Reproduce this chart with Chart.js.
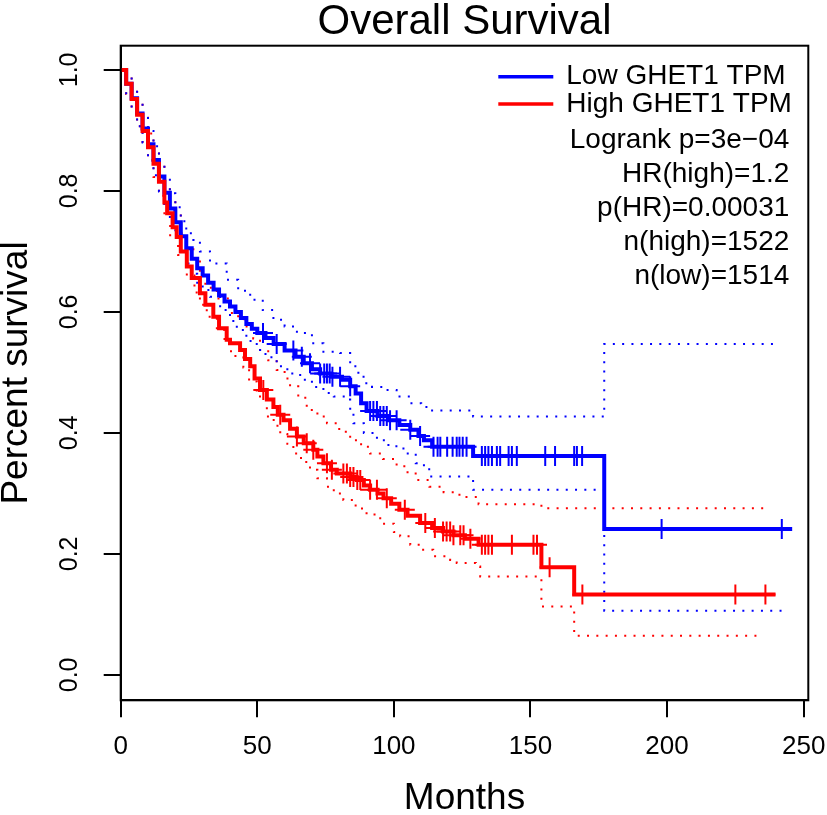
<!DOCTYPE html>
<html>
<head>
<meta charset="utf-8">
<title>Overall Survival</title>
<script src="https://cdn.jsdelivr.net/npm/chart.js@4.4.1/dist/chart.umd.min.js"></script>
<style>
  html, body { margin: 0; padding: 0; background: #fff; }
  canvas { display: block; }
</style>
</head>
<body>
<canvas id="chart-os" width="827" height="815"></canvas>
<script>
// Kaplan-Meier steps (months -> survival)
const lowTime = [0,2,4,6,8,10,12,14,16,18,20,22,24,26,28,30,32,34,36,38,40,42,44,46,48,50,53,56,60,64,67,70,73,77,81,84,86,88,90,94,98,102,106,109,111,114,129,177,245.8];
const lowSurv = [1,0.977,0.953,0.928,0.903,0.877,0.851,0.824,0.797,0.771,0.748,0.725,0.705,0.688,0.672,0.660,0.648,0.637,0.627,0.617,0.609,0.600,0.590,0.580,0.572,0.565,0.557,0.547,0.536,0.526,0.515,0.505,0.498,0.493,0.488,0.477,0.465,0.449,0.436,0.428,0.421,0.413,0.405,0.395,0.388,0.377,0.362,0.241,0.241];

const highTime = [0,2,4,6,8,10,12,14,16,17,19,20.5,22,24.2,26,29,31,33.9,36,38.8,40,43.7,45.5,47.4,49,51,53.5,55.9,57.5,59.6,62,64.5,67,70.5,72,74.2,77,79.1,84,86.4,89,91.3,94,96.2,99,102,105,109.6,114,118,121.8,126,131,154,166,239.7];
const highSurv = [1,0.977,0.952,0.926,0.899,0.872,0.845,0.815,0.781,0.763,0.740,0.724,0.700,0.675,0.656,0.631,0.612,0.592,0.573,0.554,0.548,0.537,0.522,0.510,0.490,0.471,0.455,0.443,0.430,0.421,0.407,0.394,0.383,0.372,0.361,0.350,0.339,0.333,0.327,0.322,0.313,0.306,0.300,0.292,0.283,0.273,0.263,0.251,0.243,0.237,0.231,0.225,0.215,0.178,0.133,0.133];

// 95% bands (dotted)
const lowUpTime = [0,2,4,6,8,10,12,14,16,18,20,22,24,26.6,29,32.7,38.8,43,47.4,52,55.9,60,64.5,70,74.2,80.3,84,87,88.9,92,96.2,101,106,110,113.3,129,177,239.7];
const lowUp = [1,0.992,0.971,0.948,0.925,0.899,0.874,0.848,0.821,0.796,0.773,0.750,0.730,0.719,0.700,0.680,0.653,0.635,0.620,0.603,0.587,0.576,0.565,0.548,0.534,0.532,0.510,0.495,0.482,0.476,0.471,0.460,0.449,0.443,0.437,0.427,0.547,0.547];
const lowLoTime = [0,2,4,6,8,10,12,14,16,18,20,22,24,26,28,30,32.7,36.4,40,42.5,46,49.8,53,57.1,61,65.7,70,74.2,78,82.8,84,85.2,89,93.8,98,103.5,108,111,113.3,129,177,242.6];
const lowLo = [1,0.958,0.933,0.907,0.880,0.853,0.826,0.799,0.772,0.746,0.723,0.700,0.680,0.663,0.648,0.636,0.625,0.603,0.585,0.570,0.552,0.537,0.525,0.510,0.498,0.488,0.476,0.466,0.460,0.455,0.440,0.416,0.400,0.388,0.378,0.366,0.350,0.340,0.328,0.306,0.106,0.106];

const highUpTime = [0,2,4,6,8,10,12,14,16,18,20,22,24,26.6,29,31,33,35.2,40,43,46.1,48.5,51,54,57.1,60,62,65,68.1,72,75.5,80,84,88,91.3,96,101,105,108.4,113,118.2,124,131,154,236];
const highUp = [1,0.992,0.970,0.946,0.921,0.895,0.869,0.840,0.808,0.786,0.762,0.730,0.706,0.686,0.660,0.642,0.635,0.622,0.598,0.588,0.576,0.556,0.537,0.520,0.504,0.490,0.477,0.458,0.438,0.427,0.416,0.402,0.388,0.377,0.366,0.357,0.345,0.333,0.322,0.311,0.302,0.294,0.282,0.2755,0.2755];
const highLoTime = [0,2,4,6,8,10,12,14,16,18.1,21,24.2,27,29,31.5,35.2,38,40,42,44.9,47,49.8,53.5,56,58.4,61,63.2,66,69.3,72,75.5,78,81.5,86,90,95,100,102.3,106,109.6,114.4,120.6,123,130,131.6,154,166,233];
const highLo = [1,0.960,0.934,0.907,0.879,0.851,0.823,0.792,0.757,0.724,0.694,0.660,0.632,0.612,0.592,0.570,0.550,0.535,0.525,0.508,0.485,0.460,0.427,0.412,0.398,0.382,0.366,0.352,0.339,0.325,0.311,0.300,0.289,0.275,0.265,0.250,0.236,0.229,0.215,0.207,0.196,0.190,0.185,0.179,0.1625,0.113,0.0645,0.0645];

// censored times (the + marks)
const lowCensor = [52.1,57.1,63.2,66.3,69.3,73,74.5,75.5,76.5,77.5,80.3,84,91.3,92.5,93.8,95,96.2,97.4,98.6,101,106,109.6,114.5,116,117,119.5,121.5,123,124,125.2,126.6,132.2,133.4,134.6,135.9,137.7,138.9,142,143.2,145,155.4,159,166,167,168.9,198,242];
const highCensor = [52.2,58.4,64.5,68.1,70.5,75.5,77.3,81.5,82.8,84,85.2,86.6,87.7,91.3,93.8,97.4,104,111.5,115,118,119.3,120.6,121.8,124.3,125.5,128,132.2,133.4,134.6,135.9,143.2,151.1,152.4,157,169,225,236];

const xTicks = [0,50,100,150,200,250];
const yTicks = [0,0.2,0.4,0.6,0.8,1.0];
const statLines = ['Logrank p=3e\u221204','HR(high)=1.2','p(HR)=0.00031','n(high)=1522','n(low)=1514'];

const pts = (t, v) => t.map((x, i) => ({x: x, y: v[i]}));
// value of the step curve at time t, to sit the censor marks on it
const survAt = (t, v, x) => {
  let s = v[0];
  t.forEach((tt, i) => { if (tt <= x) s = v[i]; });
  return s;
};

const BLUE = '#0000ff', RED = '#ff0000';
const fam = "'Liberation Sans', Arial, Helvetica, sans-serif";
Chart.defaults.font.family = fam;
Chart.defaults.color = '#000';

const band = (label, t, v, color) => ({
  label: label, data: pts(t, v), borderColor: color, borderWidth: 2,
  borderDash: [2, 7.3], stepped: true, pointRadius: 0, fill: false, order: 3
});

const frameAndNotes = {
  id: 'frameAndNotes',
  afterDatasetsDraw(chart) {
    const {ctx, chartArea: a} = chart;
    ctx.save();
    ctx.strokeStyle = '#000';
    ctx.lineWidth = 2;
    ctx.strokeRect(a.left, a.top, a.right - a.left, a.bottom - a.top);
    ctx.restore();
  },
  afterDraw(chart) {
    const {ctx, chartArea: a} = chart;
    ctx.save();
    ctx.font = '28px ' + fam;
    ctx.textBaseline = 'middle';
    const rows = chart.data.datasets.filter(d => d.inLegend);
    rows.forEach((d, i) => {
      const y = a.top + 31 + i * 27.3;
      ctx.strokeStyle = d.borderColor;
      ctx.lineWidth = 3.5;
      ctx.beginPath();
      ctx.moveTo(a.right - 310, y);
      ctx.lineTo(a.right - 255, y);
      ctx.stroke();
      ctx.fillStyle = '#000';
      ctx.textAlign = 'left';
      ctx.fillText(d.label, a.right - 242, y);
    });
    ctx.textAlign = 'right';
    statLines.forEach((s, i) => ctx.fillText(s, a.right - 19, a.top + 95 + i * 34));
    ctx.restore();
  }
};

const ctx = document.getElementById('chart-os').getContext('2d');
new Chart(ctx, {
  type: 'line',
  data: {
    datasets: [
      {label: 'Low GHET1 TPM', inLegend: true, data: pts(lowTime, lowSurv), borderColor: BLUE, borderWidth: 4, stepped: true, pointRadius: 0, fill: false, order: 2},
      {label: 'High GHET1 TPM', inLegend: true, data: pts(highTime, highSurv), borderColor: RED, borderWidth: 4, stepped: true, pointRadius: 0, fill: false, order: 1},
      {label: 'low censored', type: 'scatter', data: lowCensor.map(c => ({x: c, y: survAt(lowTime, lowSurv, c)})), showLine: false, pointStyle: 'cross', pointRadius: 10, pointBorderWidth: 2, pointBorderColor: BLUE, borderColor: BLUE, order: 2},
      {label: 'high censored', type: 'scatter', data: highCensor.map(c => ({x: c, y: survAt(highTime, highSurv, c)})), showLine: false, pointStyle: 'cross', pointRadius: 10, pointBorderWidth: 2, pointBorderColor: RED, borderColor: RED, order: 1},
      band('low upper', lowUpTime, lowUp, BLUE),
      band('low lower', lowLoTime, lowLo, BLUE),
      band('high upper', highUpTime, highUp, RED),
      band('high lower', highLoTime, highLo, RED)
    ]
  },
  options: {
    responsive: false,
    animation: false,
    devicePixelRatio: 1,
    layout: {padding: {left: 0, right: 18.7, top: 0, bottom: 0}},
    plugins: {
      legend: {display: false},
      tooltip: {enabled: false},
      title: {
        display: true, fullSize: false, text: 'Overall Survival', color: '#000',
        font: {size: 42, weight: 'normal', lineHeight: 1},
        padding: {top: 1, bottom: 2.7}
      }
    },
    scales: {
      x: {
        type: 'linear', min: 0, max: 251.7,
        afterBuildTicks: s => { s.ticks = xTicks.map(v => ({value: v})); },
        afterFit: s => { s.height = 114.7; s.paddingLeft = 0; s.paddingRight = 0; },
        ticks: {font: {size: 26}, color: '#000', padding: 14, maxRotation: 0, autoSkip: false},
        grid: {drawOnChartArea: false, drawTicks: true, tickLength: 17, color: '#000', lineWidth: 2},
        border: {display: true, color: '#000', width: 2},
        title: {display: true, text: 'Months', color: '#000', font: {size: 37, lineHeight: 0.9}, padding: 0}
      },
      y: {
        type: 'linear', min: -0.042, max: 1.04,
        afterBuildTicks: s => { s.ticks = yTicks.map(v => ({value: v})); },
        afterFit: s => { s.width = 120.7; s.paddingTop = 0; s.paddingBottom = 0; },
        ticks: {font: {size: 25}, color: '#000', padding: 16, minRotation: 90, maxRotation: 90, crossAlign: 'center', autoSkip: false, callback: v => v.toFixed(1)},
        grid: {drawOnChartArea: false, drawTicks: true, tickLength: 17, color: '#000', lineWidth: 2},
        border: {display: true, color: '#000', width: 2},
        title: {display: true, text: 'Percent survival', color: '#000', font: {size: 37, lineHeight: 0.9}, padding: 0}
      }
    }
  },
  plugins: [frameAndNotes]
});
</script>
</body>
</html>
